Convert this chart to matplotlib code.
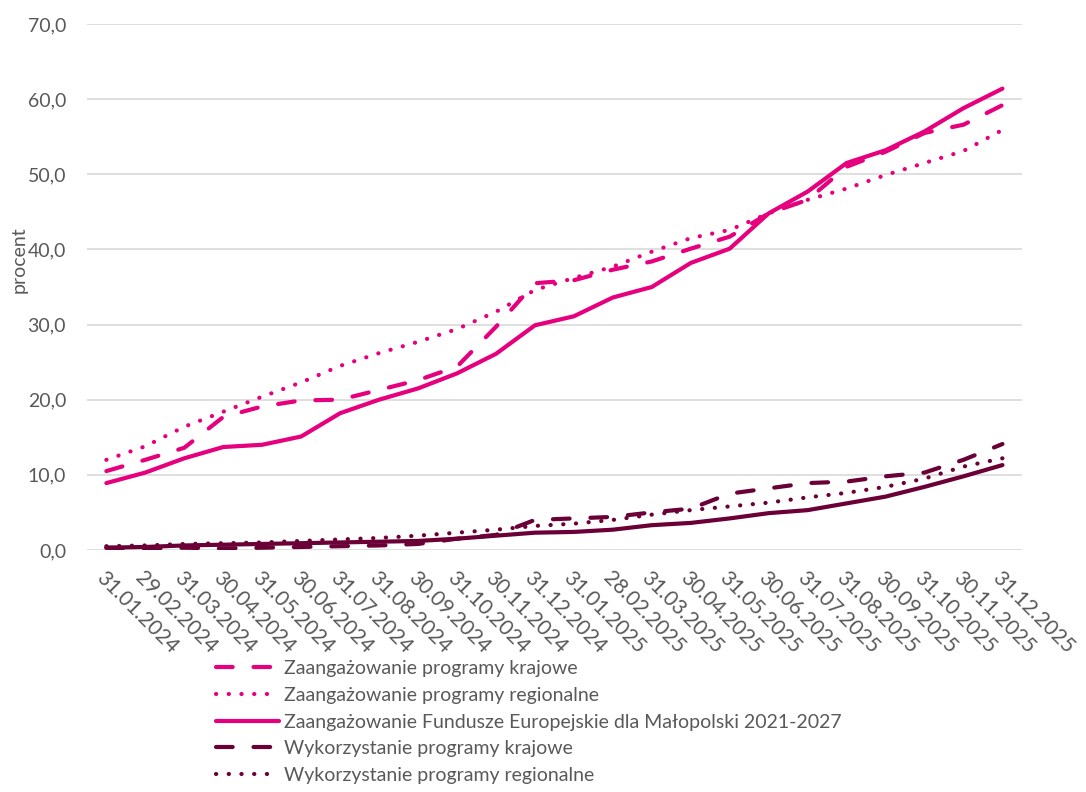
import matplotlib
matplotlib.use("Agg")
import matplotlib.pyplot as plt

# dates (end of month)
dates = ["31.01.2024", "29.02.2024", "31.03.2024", "30.04.2024", "31.05.2024", "30.06.2024",
         "31.07.2024", "31.08.2024", "30.09.2024", "31.10.2024", "30.11.2024", "31.12.2024",
         "31.01.2025", "28.02.2025", "31.03.2025", "30.04.2025", "31.05.2025", "30.06.2025",
         "31.07.2025", "31.08.2025", "30.09.2025", "31.10.2025", "30.11.2025", "31.12.2025"]

# zaangazowanie (commitment), %
zaang_krajowe = [10.5, 12.0, 13.6, 17.7, 19.1, 19.9, 20.0, 21.3, 22.6, 24.4, 29.7, 35.5,
                 35.9, 37.3, 38.4, 40.1, 41.7, 44.8, 46.6, 51.0, 53.0, 55.5, 56.6, 59.2]
zaang_regionalne = [12.0, 13.8, 16.4, 18.4, 20.4, 22.3, 24.5, 26.2, 27.7, 29.4, 31.7, 34.6,
                    36.2, 37.7, 39.7, 41.5, 42.6, 44.8, 46.6, 48.1, 49.9, 51.5, 53.1, 55.9]
zaang_fem = [8.9, 10.3, 12.2, 13.7, 14.0, 15.1, 18.2, 20.0, 21.5, 23.5, 26.1, 29.9,
             31.1, 33.6, 35.0, 38.2, 40.1, 44.8, 47.7, 51.5, 53.2, 55.7, 58.8, 61.4]

# wykorzystanie (use), %
wyk_krajowe = [0.3, 0.2, 0.3, 0.2, 0.3, 0.4, 0.5, 0.6, 0.8, 1.5, 2.0, 4.0,
               4.2, 4.4, 5.0, 5.5, 7.5, 8.2, 8.9, 9.1, 9.8, 10.3, 12.0, 14.1]
wyk_regionalne = [0.5, 0.6, 0.8, 0.9, 1.0, 1.2, 1.4, 1.6, 1.9, 2.3, 2.7, 3.2,
                  3.5, 4.0, 4.7, 5.3, 5.8, 6.3, 7.0, 7.6, 8.4, 9.5, 11.1, 12.2]
wyk_fem = [0.3, 0.4, 0.6, 0.7, 0.8, 0.9, 1.0, 1.1, 1.2, 1.5, 1.9, 2.3,
           2.4, 2.7, 3.3, 3.6, 4.2, 4.9, 5.3, 6.2, 7.1, 8.4, 9.8, 11.3]

# the last entry falls below the picture in the original, so it stays out of the legend
labels = ["Zaangażowanie programy krajowe",
          "Zaangażowanie programy regionalne",
          "Zaangażowanie Fundusze Europejskie dla Małopolski 2021-2027",
          "Wykorzystanie programy krajowe",
          "Wykorzystanie programy regionalne",
          "_Wykorzystanie Fundusze Europejskie dla Małopolski 2021-2027"]

pink = "#E6007E"
dark = "#6B0037"
txt = "#595959"

plt.rcParams['font.family'] = ['Lato', 'DejaVu Sans']

fig = plt.figure(figsize=(10.86, 7.92), dpi=100)
ax = fig.add_axes([0.080, 0.3056, 0.861, 0.6641])

x = list(range(len(dates)))
lw = 3.0
dash = (0, (4.0, 5.0))
dot = (0, (0.05, 3.0))

series = [(zaang_krajowe, pink, dash), (zaang_regionalne, pink, dot), (zaang_fem, pink, '-'),
          (wyk_krajowe, dark, dash), (wyk_regionalne, dark, dot), (wyk_fem, dark, '-')]
for (vals, col, ls), lab in zip(series, labels):
    ax.plot(x, vals, color=col, lw=lw, linestyle=ls, label=lab,
            dash_capstyle='round', solid_capstyle='round')

ax.set_xlim(-0.5, len(dates) - 0.5)
ax.set_ylim(0, 70)
ax.set_yticks(range(0, 71, 10))
ax.set_yticklabels([f"{v},0" for v in range(0, 71, 10)], fontsize=14, color=txt)
ax.set_xticks(x)
ax.set_xticklabels(dates, rotation=-45, ha='left', va='top', rotation_mode='anchor',
                   fontsize=15, color=txt)
ax.tick_params(axis='y', length=0, pad=15)
ax.tick_params(axis='x', length=0, pad=13)
ax.grid(axis='y', color='#D9D9D9', lw=1.2)
ax.set_axisbelow(True)
for s in ax.spines.values():
    s.set_visible(False)

fig.text(0.0175, 0.672, "procent", rotation=90, fontsize=14, color=txt, ha='center', va='center')

fig.legend(loc='upper left', bbox_to_anchor=(0.199, 0.1665), frameon=False, fontsize=14,
           labelcolor=txt, handlelength=3.24, handletextpad=0.26, labelspacing=0.5,
           borderpad=0, borderaxespad=0)

plt.savefig("out.png", dpi=100)
